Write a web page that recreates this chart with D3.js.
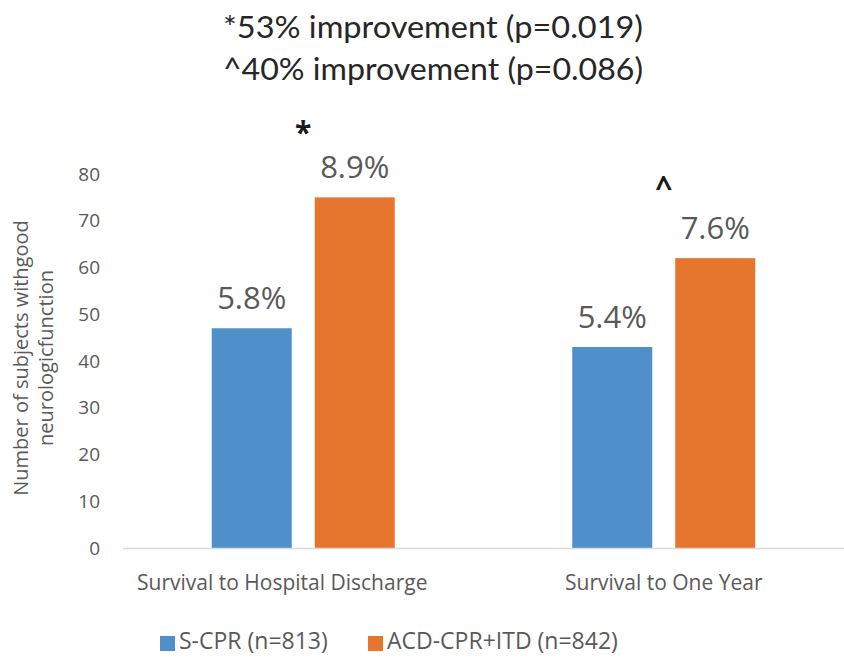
<!DOCTYPE html>
<html>
<head>
<meta charset="utf-8">
<script src="https://cdn.jsdelivr.net/npm/d3@7"></script>
<style>
  html, body { margin: 0; padding: 0; background: #fff; }
  svg { display: block; }
</style>
</head>
<body>
<svg id="chart" width="844" height="657"></svg>
<script>
// ---- data ----
const categories = ["Survival to Hospital Discharge", "Survival to One Year"];
const seriesNames = ["S-CPR (n=813)", "ACD-CPR+ITD (n=842)"];
const sCPR = [47, 43];
const acdCPR = [75, 62];
const sCPRLabels = ["5.8%", "5.4%"];
const acdCPRLabels = ["8.9%", "7.6%"];
const markers = ["*", "^"];
const titleLines = ["*53% improvement (p=0.019)", "^40% improvement (p=0.086)"];
const yTicks = [0, 10, 20, 30, 40, 50, 60, 70, 80];
const yTitleLines = ["Number of subjects withgood", "neurologicfunction"];

(function () {
const colors = ["#4f8fca", "#e6762e"];
const seriesValues = [sCPR, acdCPR];
const seriesLabels = [sCPRLabels, acdCPRLabels];

const svg = d3.select("#chart");
const plotLeft = 123, plotRight = 844, plotTop = 174, plotBottom = 548;

const x0 = d3.scaleBand().domain(categories).range([plotLeft, plotRight]).padding(0);
const groupW = 183;
const x1 = d3.scaleBand().domain(seriesNames).range([0, groupW]).paddingInner(0.2233).paddingOuter(0);
const y = d3.scaleLinear().domain([0, 80]).range([plotBottom, plotTop]);

const labelFont = "'Open Sans', 'Noto Sans', sans-serif";
const gray = "#595959";

// title
svg.append("g").selectAll("text").data(titleLines).join("text")
  .attr("x", 433)
  .attr("y", (d, i) => 38 + i * 42)
  .attr("text-anchor", "middle")
  .attr("font-family", "Lato, 'Open Sans', sans-serif")
  .attr("font-size", 30)
  .attr("fill", "#262626")
  .attr("textLength", 420)
  .attr("lengthAdjust", "spacingAndGlyphs")
  .text(d => d);

// y axis (labels only)
const yAxis = d3.axisLeft(y).tickValues(yTicks).tickSize(0).tickPadding(0);
const gy = svg.append("g").attr("transform", `translate(100,0)`).call(yAxis);
gy.select(".domain").remove();
gy.selectAll("text")
  .attr("font-family", labelFont)
  .attr("font-size", 19)
  .attr("fill", gray);

// y title
const yt = svg.append("text")
  .attr("transform", "translate(0,358) rotate(-90)")
  .attr("text-anchor", "middle")
  .attr("font-family", labelFont)
  .attr("font-size", 20)
  .attr("fill", gray);
yTitleLines.forEach((t, i) => {
  yt.append("tspan").attr("x", 0).attr("y", 28 + i * 25).text(t);
});

// bars
const offset = (x0.bandwidth() - groupW) / 2;
const barData = [];
categories.forEach((c, ci) => {
  seriesNames.forEach((s, si) => {
    barData.push({ c, s, si, v: seriesValues[si][ci], label: seriesLabels[si][ci] });
  });
});

svg.append("g").selectAll("rect").data(barData).join("rect")
  .attr("x", d => x0(d.c) + offset + x1(d.s))
  .attr("y", d => y(d.v))
  .attr("width", x1.bandwidth())
  .attr("height", d => y(0) - y(d.v))
  .attr("fill", d => colors[d.si]);

// data labels
svg.append("g").selectAll("text").data(barData).join("text")
  .attr("x", d => x0(d.c) + offset + x1(d.s) + x1.bandwidth() / 2)
  .attr("y", d => y(d.v) - 19)
  .attr("text-anchor", "middle")
  .attr("font-family", labelFont)
  .attr("font-size", 31)
  .attr("fill", gray)
  .text(d => d.label);

// significance markers
const markerY = [143, 198];
svg.append("g").selectAll("text").data(categories).join("text")
  .attr("x", d => x0(d) + x0.bandwidth() / 2)
  .attr("y", (d, i) => markerY[i])
  .attr("text-anchor", "middle")
  .attr("font-family", labelFont)
  .attr("font-size", 30)
  .attr("font-weight", "bold")
  .attr("fill", "#1a1a1a")
  .text((d, i) => markers[i]);

// x axis baseline
svg.append("line")
  .attr("x1", plotLeft).attr("x2", plotRight)
  .attr("y1", y(0) + 0.5).attr("y2", y(0) + 0.5)
  .attr("stroke", "#d9d9d9").attr("stroke-width", 1.5);

// category labels
const catDx = [-21, 0];
svg.append("g").selectAll("text").data(categories).join("text")
  .attr("x", (d, i) => x0(d) + x0.bandwidth() / 2 + catDx[i])
  .attr("y", 590)
  .attr("text-anchor", "middle")
  .attr("font-family", labelFont)
  .attr("font-size", 21)
  .attr("fill", gray)
  .text(d => d);

// legend
const legendX = [160, 368];
const lg = svg.append("g").selectAll("g").data(seriesNames).join("g")
  .attr("transform", (d, i) => `translate(${legendX[i]},636)`);
lg.append("rect").attr("width", 15).attr("height", 15).attr("fill", (d, i) => colors[i]);
lg.append("text")
  .attr("x", 19).attr("y", 13)
  .attr("font-family", labelFont)
  .attr("font-size", 23)
  .attr("fill", gray)
  .text(d => d);
})();
</script>
</body>
</html>
